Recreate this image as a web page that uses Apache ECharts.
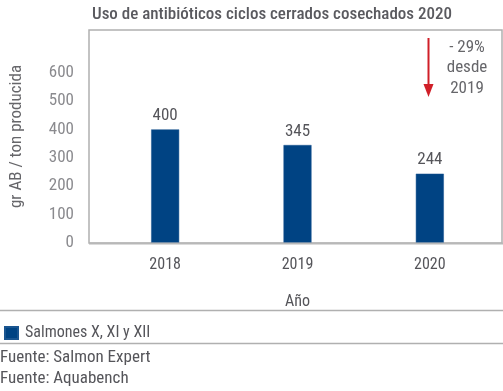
<!DOCTYPE html>
<html><head><meta charset="utf-8">
<script src="https://cdn.jsdelivr.net/npm/echarts@6/dist/echarts.min.js"></script>
<style>html,body{margin:0;padding:0;background:#fff}#c{width:503px;height:391px}</style>
</head><body><div id="c"></div>
<script>
const categories = ['2018', '2019', '2020'];
const values = [400, 345, 244];
const seriesName = 'Salmones X, XI y XII';
const yTicks = [0, 100, 200, 300, 400, 500, 600];
const titleText = 'Uso de antibióticos ciclos cerrados cosechados 2020';
const yName = 'gr AB / ton producida';
const xName = 'Año';
const note = ['- 29%', 'desde', '2019'];
const sources = ['Fuente: Salmon Expert', 'Fuente: Aquabench'];

const FF = '"Roboto Condensed","Liberation Sans Narrow","Arial Narrow",Roboto,sans-serif';
const chart = echarts.init(document.getElementById('c'));
chart.setOption({
  animation: false,
  textStyle: { fontFamily: FF },
  title: { text: titleText, left: 267, textAlign: 'center', top: 1,
    textStyle: { fontFamily: FF, fontSize: 17, fontWeight: 500, color: '#5a5a5f' } },
  grid: { left: 94, right: 7, top: 30, bottom: 148 },
  legend: { left: -1, top: 320, itemWidth: 13, itemHeight: 12, icon: 'rect', itemGap: 10,
    textStyle: { fontFamily: FF, fontSize: 16, color: '#55555a', padding: [0,0,0,2] } },
  xAxis: { type: 'category', data: categories,
    axisLine: { show: false }, axisTick: { show: false },
    axisLabel: { fontSize: 16, color: '#55555a', margin: 14, fontFamily: FF },
    name: xName, nameLocation: 'middle', nameGap: 51,
    nameTextStyle: { fontSize: 16, color: '#55555a', fontFamily: FF } },
  yAxis: { type: 'value', min: 0, max: 750, interval: 100,
    splitLine: { show: false }, axisLine: { show: false }, axisTick: { show: false },
    axisLabel: { fontSize: 17, color: '#8a8a8e', margin: 25, fontFamily: FF,
      formatter: v => yTicks.includes(v) ? String(v) : '' },
    name: yName, nameLocation: 'middle', nameGap: 74, nameRotate: 90,
    nameTextStyle: { fontSize: 17, color: '#66666a', fontFamily: FF } },
  series: [{ name: seriesName, type: 'bar', data: values, barWidth: 28,
    itemStyle: { color: '#004383', borderColor: '#1a5590', borderWidth: 0.5 },
    label: { show: true, position: 'top', distance: 5, fontSize: 17, color: '#55555a', fontFamily: FF } }],
  graphic: [
    { type: 'rect', shape: { x: 89, y: 30, width: 413, height: 213 }, style: { fill: 'none', stroke: '#b0b0b0', lineWidth: 1.5 }, z: 0 },
    { type: 'line', shape: { x1: 89, y1: 243.5, x2: 503, y2: 243.5 }, style: { stroke: '#b8b8b8', lineWidth: 2 }, z: 10 },
    { type: 'line', shape: { x1: 0, y1: 310.5, x2: 503, y2: 310.5 }, style: { stroke: '#b0b0b0', lineWidth: 1.5 } },
    { type: 'line', shape: { x1: 0, y1: 343.5, x2: 503, y2: 343.5 }, style: { stroke: '#b0b0b0', lineWidth: 1.5 } },
    { type: 'line', shape: { x1: 428.5, y1: 38, x2: 428.5, y2: 88 }, style: { stroke: '#d01f28', lineWidth: 2 } },
    { type: 'polygon', shape: { points: [[423.5, 84], [433.5, 84], [428.5, 97]] }, style: { fill: '#d01f28' } },
    { type: 'text', style: { text: note.join('\n'), x: 467, y: 37, align: 'center', fontSize: 17, lineHeight: 20.5,
      fill: '#66666a', fontFamily: FF } },
    { type: 'text', style: { text: sources.join('\n'), x: 0, y: 347, fontSize: 17, lineHeight: 21,
      fill: '#55555a', fontFamily: FF } }
  ]
});
</script></body></html>
